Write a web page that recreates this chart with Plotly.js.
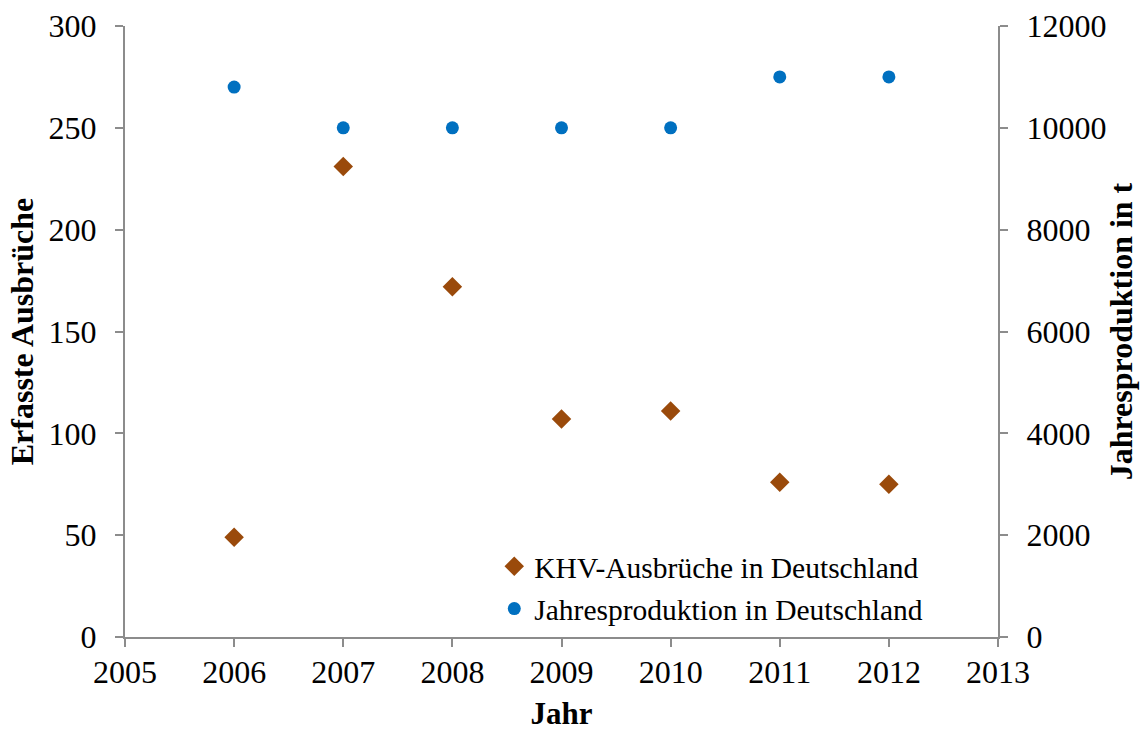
<!DOCTYPE html>
<html><head><meta charset="utf-8">
<script src="https://cdn.plot.ly/plotly-3.0.1.min.js"></script>
<style>html,body{margin:0;padding:0;background:#fff}#c{width:1145px;height:731px}</style>
</head><body><div id="c"></div>
<script>
var years = [2006, 2007, 2008, 2009, 2010, 2011, 2012];
var khvOutbreaks = [49, 231, 172, 107, 111, 76, 75];
var annualProduction = [10800, 10000, 10000, 10000, 10000, 11000, 11000];
var seriesNames = ['KHV-Ausbrüche in Deutschland', 'Jahresproduktion in Deutschland'];

var font = "'Liberation Serif', 'Times New Roman', serif";
var data = [
  {x: years, y: khvOutbreaks, name: seriesNames[0], type: 'scatter', mode: 'markers', legendgroup: 'a',
   marker: {symbol: 'diamond', size: 15, color: '#9A4A0B'}, yaxis: 'y'},
  {x: years, y: annualProduction, name: seriesNames[1], type: 'scatter', mode: 'markers', legendgroup: 'b',
   marker: {symbol: 'circle', size: 13, color: '#0070C0'}, yaxis: 'y2'}
];
var axisCommon = {showgrid: false, zeroline: false, showline: true, linecolor: '#8C8C8C', linewidth: 2,
  ticks: 'outside', ticklen: 8, tickwidth: 2, tickcolor: '#8C8C8C', tickformat: 'd',
  tickfont: {family: font, size: 32, color: '#000'}};
var layout = {
  width: 1145, height: 731,
  margin: {l: 125, r: 147, t: 26, b: 94},
  paper_bgcolor: '#fff', plot_bgcolor: '#fff',
  font: {family: font, color: '#000'},
  showlegend: true,
  legend: {x: 0.423, y: 0.004, xanchor: 'left', yanchor: 'bottom', bgcolor: 'rgba(0,0,0,0)',
    font: {family: font, size: 29.5, color: '#000'}, itemwidth: 30, tracegroupgap: 1},
  xaxis: Object.assign({}, axisCommon, {range: [2005, 2013], dtick: 1, tick0: 2005, ticklabelstandoff: -2,
    title: {text: '<b>Jahr</b>', font: {family: font, size: 31}, standoff: 22}}),
  yaxis: Object.assign({}, axisCommon, {range: [0, 300], dtick: 50, ticklabelstandoff: 12,
    title: {text: '<b>Erfasste Ausbrüche</b>', font: {family: font, size: 32}, standoff: 5}}),
  yaxis2: Object.assign({}, axisCommon, {range: [0, 12000], dtick: 2000, overlaying: 'y', side: 'right',
    ticklabelstandoff: 12,
    title: {text: '<b>Jahresproduktion in t</b>', font: {family: font, size: 32}, standoff: 4}})
};
Plotly.newPlot('c', data, layout, {displayModeBar: false, staticPlot: true});
</script></body></html>
